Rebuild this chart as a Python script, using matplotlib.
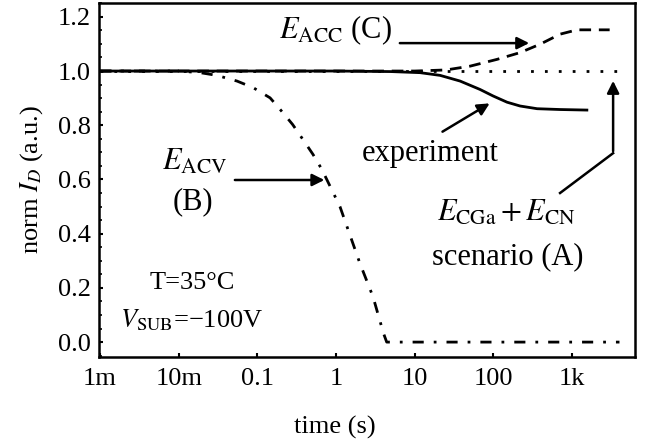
import numpy as np
import matplotlib
matplotlib.use('Agg')
import matplotlib.pyplot as plt
from matplotlib.ticker import FixedLocator, MultipleLocator

plt.rcParams['font.family'] = ['Liberation Serif', 'DejaVu Serif']
plt.rcParams['mathtext.fontset'] = 'stix'

# data
t_a = [1e-3, 4000]
i_a = [1.0, 1.0]

t_exp = [1e-3, 1, 5, 11.7, 21, 37.7, 67.6, 99, 149, 218, 359, 703, 1540]
i_exp = [1.0, 1.0, 0.998, 0.994, 0.984, 0.963, 0.932, 0.908, 0.885, 0.871, 0.861, 0.858, 0.856]

t_c = [1e-3, 10, 25, 50.5, 111, 218, 392, 703, 1156, 3000]
i_c = [1.0, 1.0, 1.004, 1.018, 1.043, 1.068, 1.099, 1.136, 1.152, 1.152]

t_b = [1e-3, 0.01, 0.0187, 0.0305, 0.055, 0.088, 0.145, 0.195, 0.28, 0.38,
       0.51, 0.66, 1.12, 2.0, 2.95, 4.0, 4.4, 4000]
i_b = [1.0, 1.0, 0.994, 0.984, 0.963, 0.939, 0.901, 0.858, 0.803, 0.747,
       0.692, 0.637, 0.50, 0.292, 0.167, 0.033, 0.0, 0.0]

xticks = [1e-3, 1e-2, 0.1, 1, 10, 100, 1000]
xticklabels = ['1m', '10m', '0.1', '1', '10', '100', '1k']
yticks = [0.0, 0.2, 0.4, 0.6, 0.8, 1.0, 1.2]

fig = plt.figure(figsize=(6.47, 4.43), dpi=100)
ax = fig.add_axes([99/647, 86/443, 536/647, 354/443])

lw = 2.0
ax.plot(t_a, i_a, color='black', lw=lw, linestyle=(0, (1.0, 4.0)))
ax.plot(t_b, i_b, color='black', lw=lw, linestyle=(0, (4.0, 3.6, 1.0, 3.6)))
ax.plot(t_c, i_c, color='black', lw=lw, linestyle=(0, (4.2, 2.8)))
ax.plot(t_exp, i_exp, color='black', lw=lw)

ax.set_xscale('log')
ax.set_xlim(0.00097, 6300)
ax.set_ylim(-0.055, 1.251)

ax.xaxis.set_major_locator(FixedLocator(xticks))
ax.xaxis.set_minor_locator(FixedLocator([]))
ax.set_xticklabels(xticklabels)
ax.set_yticks(yticks)
ax.set_yticklabels(['%.1f' % v for v in yticks])
ax.yaxis.set_minor_locator(MultipleLocator(0.05))

ax.tick_params(which='major', direction='in', length=3, width=1.5, labelsize=19)
ax.tick_params(axis='x', which='major', pad=8)
ax.tick_params(axis='y', which='major', pad=6)
ax.tick_params(which='minor', direction='in', length=2, width=1.2)
for s in ax.spines.values():
    s.set_linewidth(1.8)

ax.set_xlabel('time (s)', fontsize=19)
ax.xaxis.set_label_coords(0.44, -0.165)
ax.set_ylabel('norm $I_D$ (a.u.)', fontsize=19)
ax.yaxis.set_label_coords(-0.10, 0.5)

fs = 22
arrow = dict(arrowstyle='-|>', color='black', lw=1.8, mutation_scale=18)

# (C)
ax.text(0.97, 1.151, r'$E_{\mathrm{ACC}}$ (C)', fontsize=fs, ha='center', va='center')
ax.annotate('', xy=(309, 1.103), xytext=(5.96, 1.103), arrowprops=arrow)

# (B)
ax.text(0.016, 0.664, r'$E_{\mathrm{ACV}}$', fontsize=fs, ha='center', va='center')
ax.text(0.015, 0.517, '(B)', fontsize=fs, ha='center', va='center')
ax.annotate('', xy=(0.77, 0.598), xytext=(0.0477, 0.598), arrowprops=arrow)

# experiment
ax.text(15.7, 0.697, 'experiment', fontsize=fs, ha='center', va='center')
ax.annotate('', xy=(96, 0.886), xytext=(21, 0.771), arrowprops=arrow)

# (A)
ax.text(145, 0.476, r'$E_{\mathrm{CGa}}+E_{\mathrm{CN}}$', fontsize=fs, ha='center', va='center')
ax.text(150, 0.314, 'scenario (A)', fontsize=fs, ha='center', va='center')
ax.plot([703, 3320], [0.55, 0.697], color='black', lw=1.8)
ax.annotate('', xy=(3320, 0.974), xytext=(3320, 0.694), arrowprops=arrow)

# conditions
ax.text(0.0148, 0.218, 'T=35°C', fontsize=19, ha='center', va='center')
ax.text(0.0146, 0.081, r'$V_{\mathrm{SUB}}$=−100V', fontsize=19, ha='center', va='center')

fig.savefig('out.png', dpi=100)
